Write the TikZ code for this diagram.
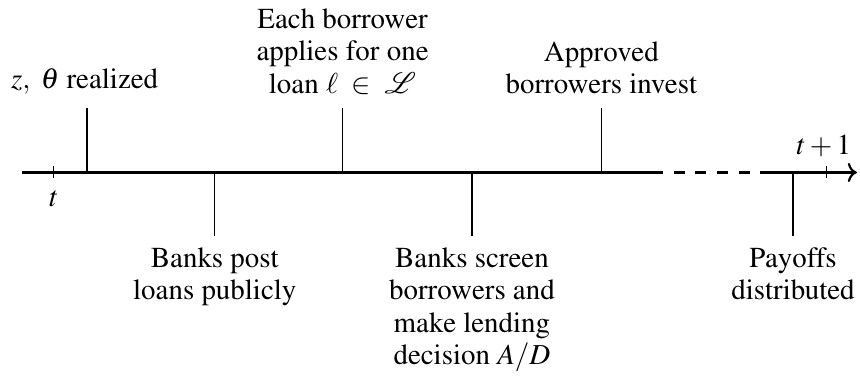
\documentclass[tikz,border=0pt]{standalone}
\usepackage[T1]{fontenc}
\usepackage{mathptmx}
\usepackage{mathrsfs}
\usetikzlibrary{arrows.meta, calc}

\begin{document}
\begin{tikzpicture}[
    every node/.style={font=\fontsize{10.7}{12}\selectfont},
    event/.style={align=center, inner sep=3.33pt},
    axisline/.style={thick}
  ]
  \useasboundingbox (0,-2.71) rectangle (11.17,2.24);

  % Time axis: solid, dashed gap, solid with arrow
  \coordinate (start) at (0.286,0);
  \coordinate (gapL) at (8.61,0);
  \coordinate (gapR) at (9.87,0);
  \coordinate (tip) at (11.13,0);
  \draw[axisline] (start) -- (gapL);
  \draw[axisline, dash pattern=on 4pt off 4pt, dash phase=4pt] (gapL) -- (gapR);
  \draw[axisline, ->] (gapR) -- (tip);

  % Period ticks
  \def\tk{0.078}
  \coordinate (t0) at (0.70,0);
  \coordinate (t1) at (10.73,0);
  \draw (t0) ++(0,\tk) -- ++(0,-2*\tk) node[below=1pt] (tlabel) {$t$};
  \draw (t1) ++(0,-\tk) -- ++(0,2*\tk) node[above, xshift=-0.03cm] (t1label) {$t + 1$};

  % Events above the axis
  \def\up{0.84}
  \coordinate (realizedpt) at (1.13,0);
  \coordinate (applypt) at (4.45,0);
  \coordinate (investpt) at (7.81,0);
  \draw (realizedpt) -- ++(0,\up) node[event, above=1.5pt, xshift=-0.03cm] (realized)
    {$z,\ \theta$ realized};
  \draw (applypt) -- ++(0,\up) node[event, above=1.5pt] (apply)
    {Each borrower\\ applies for one\\ loan $\ell\ \in\ \mathscr{L}$};
  \draw (investpt) -- ++(0,\up) node[event, above=1.5pt] (invest)
    {Approved\\ borrowers invest};

  % Events below the axis
  \def\down{0.82}
  \coordinate (postpt) at (2.79,0);
  \coordinate (screenpt) at (6.13,0);
  \coordinate (payoffpt) at (10.30,0);
  \draw (postpt) -- ++(0,-\down) node[event, below=1pt] (post)
    {Banks post\\ loans publicly};
  \draw (screenpt) -- ++(0,-\down) node[event, below=1pt] (screen)
    {Banks screen\\ borrowers and\\ make lending\\ decision $A/D$};
  \draw (payoffpt) -- ++(0,-\down) node[event, below=1pt] (payoff)
    {Payoffs\\ distributed};
\end{tikzpicture}
\end{document}
